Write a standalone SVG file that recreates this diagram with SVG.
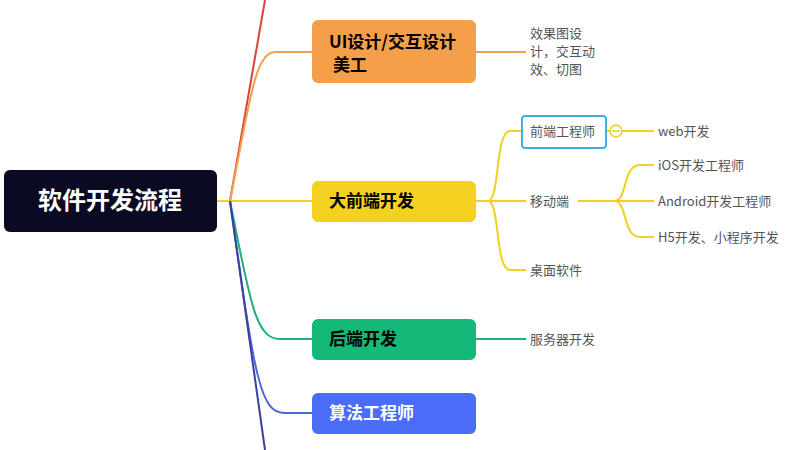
<svg xmlns="http://www.w3.org/2000/svg" width="800" height="450" viewBox="0 0 800 450">
<style>
text{font-family:"Noto Sans CJK SC","Noto Sans",sans-serif}
.m{font-size:17px;font-weight:bold}
.s{font-size:13px;fill:#555}
.c{fill:none;stroke-width:2}
</style>
<rect width="800" height="450" fill="#fff"/>
<g id="connectors">
<path class="c" stroke="#d9453a" d="M230,201 L265,0"/>
<path class="c" stroke="#f0a050" d="M230,201 C250,100 255,52 275,52 L312,52"/>
<path class="c" stroke="#f0d020" d="M217,201 L312,201"/>
<path class="c" stroke="#1bb27a" d="M230,201 C250,300 255,339 280,339 L312,339"/>
<path class="c" stroke="#4a68e0" d="M230,201 C255,380 260,413 285,413 L312,413"/>
<path class="c" stroke="#3b3fa0" d="M230,201 L265,450"/>
<path class="c" stroke="#f0a050" d="M476,52 L526,52"/>
<path class="c" stroke="#f0d020" d="M476,201 L488,201 M488,201 C500,201 495,131 510,131 L522,131 M488,201 L526,201 M488,201 C500,201 495,270 510,270 L526,270"/>
<path class="c" stroke="#f0d020" d="M606,131 L610,131 M622,131 L654,131"/>
<path class="c" stroke="#f0d020" d="M578,201 L614,201 M614,201 C628,201 622,165 640,165 L654,165 M614,201 L654,201 M614,201 C628,201 622,237 640,237 L654,237"/>
<path class="c" stroke="#1bb27a" d="M476,339 L526,339"/>
</g>
<g id="root"><rect x="4" y="170" width="213" height="62" rx="6" fill="#0a0a23"/><text x="110" y="209" font-size="24" font-weight="bold" fill="#fff" text-anchor="middle">软件开发流程</text></g>
<g id="ui"><rect x="312" y="20" width="164" height="63" rx="6" fill="#f4a04b"/><text class="m" x="329" y="48">UI设计/交互设计</text><text class="m" x="333" y="71">美工</text></g>
<g id="ui-sub"><text class="s" x="530" y="38">效果图设</text><text class="s" x="530" y="56">计，交互动</text><text class="s" x="530" y="74">效、切图</text></g>
<g id="fe"><rect x="312" y="181" width="164" height="41" rx="6" fill="#f2d21f"/><text class="m" x="329" y="207">大前端开发</text></g>
<g id="fe-eng"><rect x="522" y="116" width="84" height="32" rx="3" fill="#fff" stroke="#3fb0e0" stroke-width="2"/><text class="s" x="530" y="136">前端工程师</text></g>
<g id="toggle"><circle cx="616" cy="131" r="6" fill="#fff" stroke="#f0d020" stroke-width="1.5"/><path d="M612,131 L620,131" stroke="#f0d020" stroke-width="1.5"/></g>
<g id="web"><text class="s" x="658" y="136">web开发</text></g>
<g id="mobile"><text class="s" x="530" y="206">移动端</text></g>
<g id="ios"><text class="s" x="658" y="170">iOS开发工程师</text></g>
<g id="android"><text class="s" x="658" y="206">Android开发工程师</text></g>
<g id="h5"><text class="s" x="658" y="242">H5开发、小程序开发</text></g>
<g id="desktop"><text class="s" x="530" y="275">桌面软件</text></g>
<g id="be"><rect x="312" y="319" width="164" height="41" rx="6" fill="#14b978"/><text class="m" x="329" y="345">后端开发</text></g>
<g id="be-sub"><text class="s" x="530" y="344">服务器开发</text></g>
<g id="algo"><rect x="312" y="393" width="164" height="41" rx="6" fill="#4a6cf7"/><text class="m" x="329" y="419" fill="#fff">算法工程师</text></g>
</svg>
